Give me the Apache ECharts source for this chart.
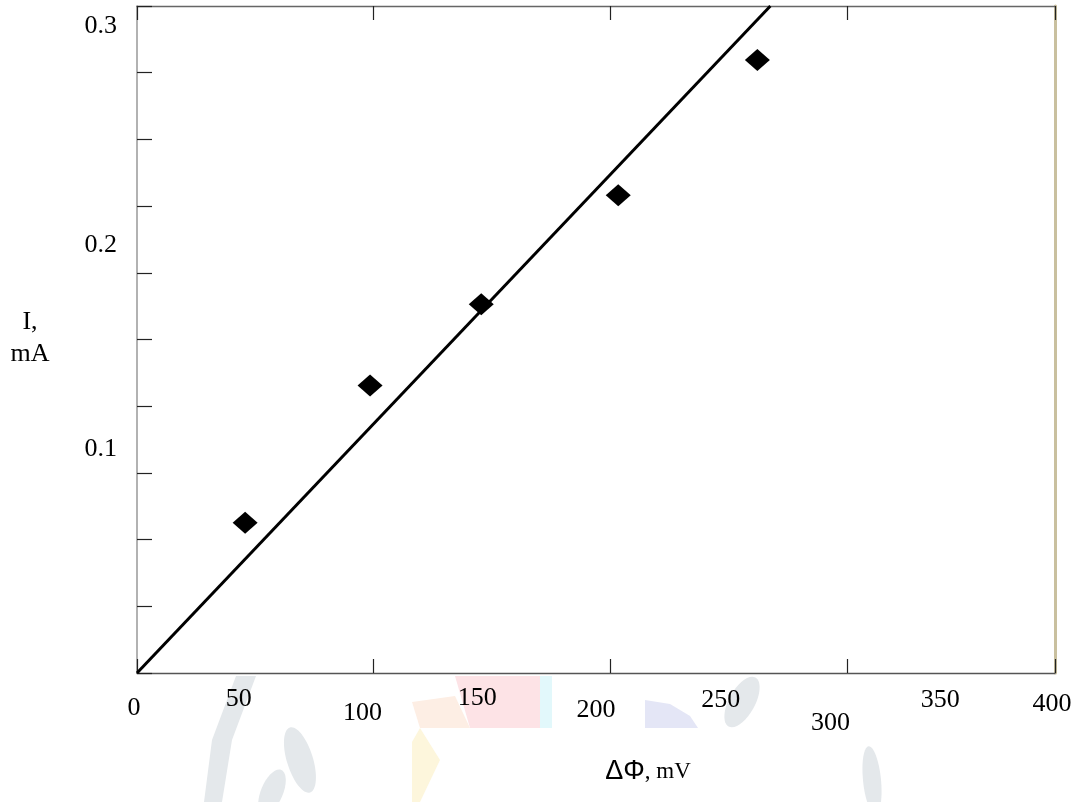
<!DOCTYPE html>
<html><head><meta charset="utf-8">
<script src="https://cdn.jsdelivr.net/npm/echarts@6/dist/echarts.min.js"></script>
<style>html,body{margin:0;padding:0;background:#fff;} #c{width:1079px;height:802px;}</style>
</head><body><div id="c"></div>
<script>
// ---- data ----
const pointsX = [45.7, 98.5, 145.5, 203.4, 262.2];        // ΔΦ, mV
const pointsY = [0.0676, 0.1293, 0.1658, 0.2149, 0.2757]; // I, mA
const fitX = [0, 267.7];
const fitY = [0, 0.3];
const xTickLabels = ['0', '50', '100', '150', '200', '250', '300', '350', '400'];
const xTickValues = [0, 50, 100, 150, 200, 250, 300, 350, 400];
const yTickLabels = ['0.1', '0.2', '0.3'];
const yTickValues = [0.1, 0.2, 0.3];

// ---- layout / style (kept apart from data) ----
const X_MAX = 388, LABEL_SPAN = 400;
const xLabelDx = [-3, -13, -4, -4, 0, 10, 5, 0, -3];
const xLabelCy = [708, 699, 713, 698, 710, 700, 723, 700, 704];
const yLabelDy = [-1, 17, 20];
const FONT = '"Liberation Serif", "Times New Roman", serif';
const FS = 26;

const chart = echarts.init(document.getElementById('c'), null, {renderer: 'canvas'});
const scatterData = pointsX.map((x, i) => [x, pointsY[i]]);
const fitData = fitX.map((x, i) => [x, fitY[i]]);

const tickStyle = {show: true, inside: true, length: 14, lineStyle: {color: '#222', width: 1.2}};
chart.setOption({
  backgroundColor: '#fff',
  animation: false,
  grid: {left: 137, top: 6, right: 24, bottom: 129, show: true, backgroundColor: '#fff', borderWidth: 0},
  xAxis: [
    {type: 'value', position: 'bottom', min: 0, max: X_MAX, interval: 100,
     axisLine: {show: true, lineStyle: {color: '#555', width: 1.3}},
     axisTick: tickStyle, axisLabel: {show: false}, splitLine: {show: false}},
    {type: 'value', position: 'top', min: 0, max: X_MAX, interval: 100,
     axisLine: {show: true, onZero: false, lineStyle: {color: '#666', width: 1.3}},
     axisTick: tickStyle, axisLabel: {show: false}, splitLine: {show: false}}
  ],
  yAxis: [
    {type: 'value', position: 'left', min: 0, max: 0.3, interval: 0.03,
     axisLine: {show: true, lineStyle: {color: '#999', width: 1.5}},
     axisTick: {show: true, inside: true, length: 15, lineStyle: {color: '#222', width: 1.2}},
     axisLabel: {show: false}, splitLine: {show: false}},
    {type: 'value', position: 'right', min: 0, max: 0.3, interval: 0.03,
     axisLine: {show: true, onZero: false, lineStyle: {color: '#c9c09f', width: 3}},
     axisTick: {show: false}, axisLabel: {show: false}, splitLine: {show: false}}
  ],
  series: [
    {type: 'line', data: fitData, xAxisIndex: 0, yAxisIndex: 0, symbol: 'none',
     lineStyle: {color: '#000', width: 3}, z: 3},
    {type: 'scatter', data: scatterData, xAxisIndex: 0, yAxisIndex: 0, symbol: 'diamond',
     symbolSize: [25, 22], itemStyle: {color: '#000', opacity: 1}, z: 4}
  ]
});

// ---- watermark-like faint shapes below the axis ----
const leaf = '#e4e8eb';
const wm = [
  {type: 'polygon', shape: {points: [[236,676],[256,676],[232,740],[222,802],[204,802],[212,740]]}, style: {fill: leaf}},
  {type: 'ellipse', x: 300, y: 760, rotation: 0.3, shape: {cx: 0, cy: 0, rx: 13, ry: 34}, style: {fill: leaf}},
  {type: 'ellipse', x: 272, y: 792, rotation: -0.4, shape: {cx: 0, cy: 0, rx: 11, ry: 24}, style: {fill: leaf}},
  {type: 'polygon', shape: {points: [[455,676],[548,676],[540,728],[470,728]]}, style: {fill: '#fde3e6'}},
  {type: 'polygon', shape: {points: [[412,702],[455,696],[470,728],[420,728]]}, style: {fill: '#fdeee4'}},
  {type: 'polygon', shape: {points: [[412,742],[420,728],[440,760],[420,802],[412,802]]}, style: {fill: '#fdf6dc'}},
  {type: 'rect', shape: {x: 540, y: 676, width: 12, height: 52}, style: {fill: '#e2f8fb'}},
  {type: 'polygon', shape: {points: [[645,700],[670,704],[690,716],[698,728],[645,728]]}, style: {fill: '#e4e6f6'}},
  {type: 'ellipse', x: 742, y: 702, rotation: -0.5, shape: {cx: 0, cy: 0, rx: 13, ry: 28}, style: {fill: leaf}},
  {type: 'ellipse', x: 872, y: 780, rotation: 0.1, shape: {cx: 0, cy: 0, rx: 9, ry: 34}, style: {fill: leaf}}
].map(g => Object.assign({z: -10, silent: true}, g));

const texts = [];
xTickValues.forEach((v, i) => {
  const px = chart.convertToPixel({xAxisIndex: 0}, v * X_MAX / LABEL_SPAN);
  texts.push({type: 'text', x: px + xLabelDx[i], y: xLabelCy[i], z: 10,
    style: {text: xTickLabels[i], font: FS + 'px ' + FONT, fill: '#000', align: 'center', verticalAlign: 'middle'}});
});
yTickValues.forEach((v, i) => {
  const py = chart.convertToPixel({yAxisIndex: 0}, v);
  texts.push({type: 'text', x: 117, y: py + yLabelDy[i], z: 10,
    style: {text: yTickLabels[i], font: FS + 'px ' + FONT, fill: '#000', align: 'right', verticalAlign: 'middle'}});
});
texts.push({type: 'text', x: 30, y: 338, z: 10,
  style: {text: 'I,\nmA', font: FS + 'px ' + FONT, lineHeight: 32, fill: '#000', align: 'center', verticalAlign: 'middle'}});
texts.push({type: 'text', x: 648, y: 772, z: 10,
  style: {text: '{a|ΔΦ}{b|, mV}', fill: '#000', align: 'center', verticalAlign: 'middle',
    rich: {a: {font: '27px "Liberation Sans", Arial, sans-serif', fill: '#000'},
           b: {font: '23px ' + FONT, fill: '#000'}}}});

chart.setOption({graphic: {elements: wm.concat(texts)}});
</script>
</body></html>
